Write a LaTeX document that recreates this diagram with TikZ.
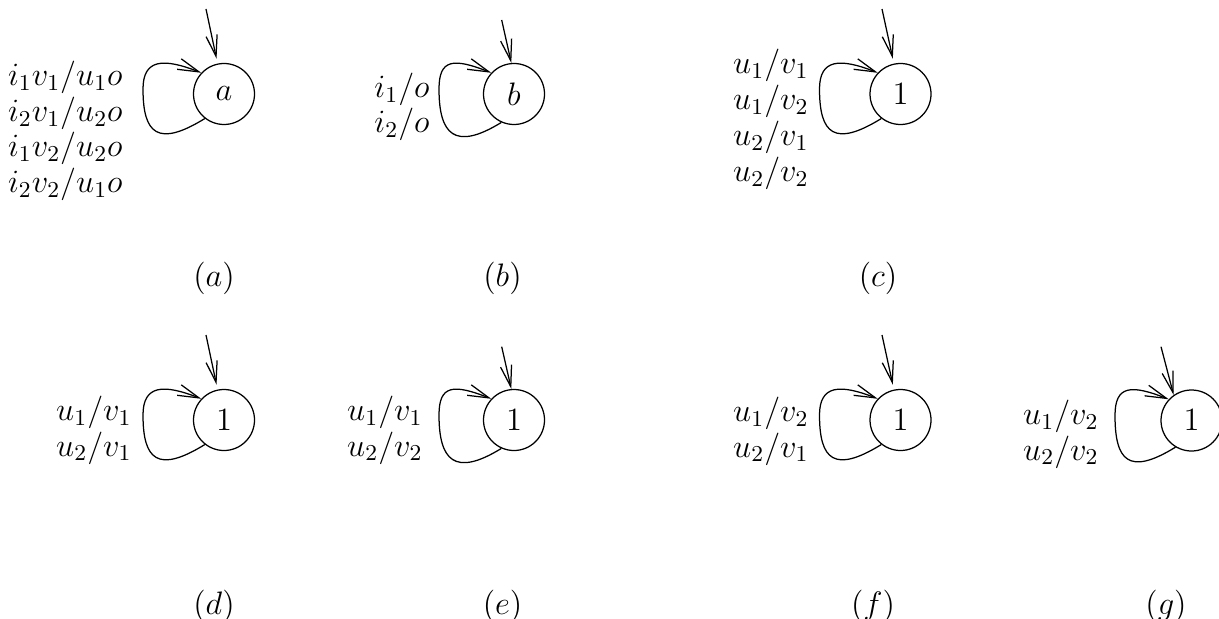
\RequirePackage{fix-cm}
\documentclass[tikz,border=0pt]{standalone}
\usepackage{tikz}
\usetikzlibrary{arrows.meta,calc}

\begin{document}
\begin{tikzpicture}[x=.4pt,y=.4pt,font=\fontsize{13}{14.3}\selectfont,
state/.style={draw,circle,line width=.5pt,minimum size=24.4pt,inner sep=0pt},
lab/.style={anchor=east,align=right,inner sep=0pt},
arr/.style={-{Straight Barb[length=8.5pt,width=4.5pt]},line width=.5pt},
init/.style={arr,shorten >=2pt},
selfloop/.style 2 args={to path={(\tikztostart.#1) .. controls +(-47,-29) and +(0,-45) .. ($(\tikztostart)+(#2,5)$) .. controls +(0,30) and +(-38,15) .. (\tikztostart.137)}}]
\useasboundingbox (0,0) rectangle (1219,-619);

% top row
\node[state] (a)at(224,-94){$a$};
\node[state] (b)at(514,-94){$b$};
\node[state] (c)at(900.5,-94){$1$};
\node[lab] (la)at(123,-131){$i_1v_1/u_1o$\\$i_2v_1/u_2o$\\$i_1v_2/u_2o$\\$i_2v_2/u_1o$};
\node[lab] (lb)at(430,-107){$i_1/o$\\$i_2/o$};
\node[lab] (lc)at(809,-119.5){$u_1/v_1$\\$u_1/v_2$\\$u_2/v_1$\\$u_2/v_2$};
\coordinate (a0)at(206,-9);
\coordinate (b0)at(501.7,-20);
\coordinate (c0)at(882,-9);
\draw[init](a0)--(a);
\draw[arr](b0)--(b.95);
\draw[init](c0)--(c);
\draw[arr](a) to[selfloop={-128}{-81}] (a);
\draw[arr](b) to[selfloop={-114}{-75}] (b);
\draw[arr](c) to[selfloop={-128}{-81}] (c);
\node (ca)at(214,-278){$(a)$};
\node (cb)at(502.5,-278){$(b)$};
\node (cc)at(878,-278){$(c)$};

% bottom row
\node[state] (d)at(224,-420){$1$};
\node[state] (e)at(514,-420){$1$};
\node[state] (f)at(900.5,-420){$1$};
\node[state] (g)at(1191.5,-420.5){$1$};
\node[lab] (ld)at(132,-430){$u_1/v_1$\\$u_2/v_1$};
\node[lab] (le)at(423,-430){$u_1/v_1$\\$u_2/v_2$};
\node[lab] (lf)at(809,-431){$u_1/v_2$\\$u_2/v_1$};
\node[lab] (lg)at(1099,-434){$u_1/v_2$\\$u_2/v_2$};
\coordinate (d0)at(206,-335);
\coordinate (e0)at(501.7,-346.7);
\coordinate (f0)at(882,-335);
\coordinate (g0)at(1161,-346.7);
\draw[init](d0)--(d);
\draw[arr](e0)--(e.95);
\draw[init](f0)--(f);
\draw[arr](g0)--(g.125);
\draw[arr](d) to[selfloop={-128}{-81}] (d);
\draw[arr](e) to[selfloop={-114}{-75}] (e);
\draw[arr](f) to[selfloop={-128}{-81}] (f);
\draw[arr](g) to[selfloop={-121}{-76.5}] (g);
\node (cd)at(214,-606.7){$(d)$};
\node (ce)at(502.5,-606.7){$(e)$};
\node (cf)at(873,-606.7){$(f)$};
\node (cg)at(1166,-606.7){$(g)$};
\end{tikzpicture}
\end{document}
